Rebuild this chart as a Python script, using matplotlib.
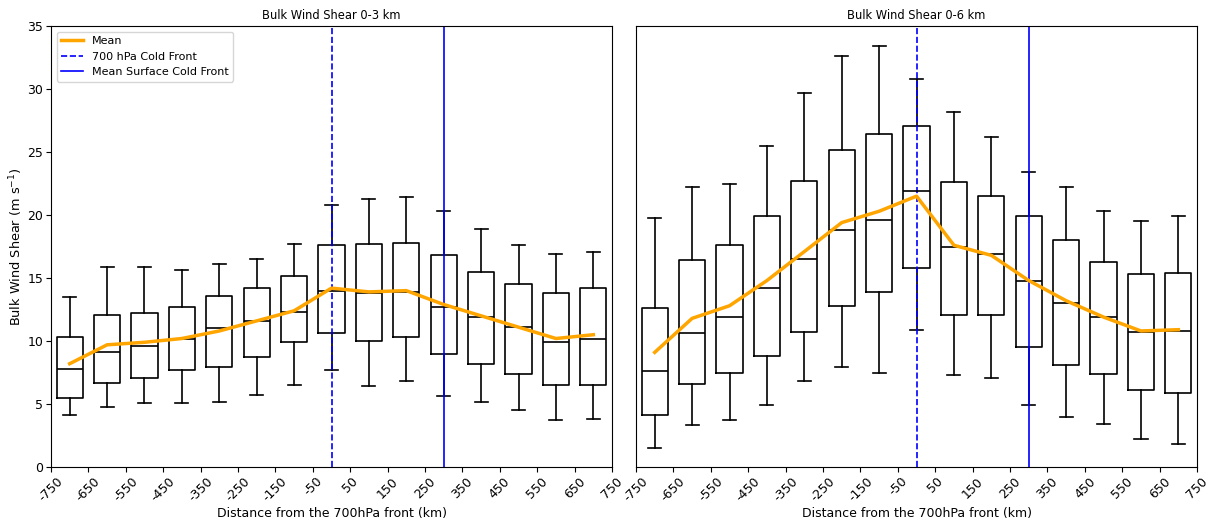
import numpy as np
import matplotlib
matplotlib.use("Agg")
import matplotlib.pyplot as plt

# bin centres (km from the 700 hPa front)
positions = [-700, -600, -500, -400, -300, -200, -100, 0, 100, 200, 300, 400, 500, 600, 700]

# 0-3 km shear: whisker low, q1, median, q3, whisker high, mean
shear03_whislo = [4.1, 4.8, 5.1, 5.1, 5.2, 5.7, 6.5, 7.7, 6.4, 6.8, 5.6, 5.2, 4.5, 3.7, 3.8]
shear03_q1 = [5.5, 6.7, 7.1, 7.7, 7.9, 8.7, 9.9, 10.6, 10.0, 10.3, 9.0, 8.2, 7.4, 6.5, 6.5]
shear03_med = [7.8, 9.1, 9.6, 10.2, 11.0, 11.6, 12.3, 14.0, 13.8, 13.9, 12.7, 11.9, 11.1, 9.9, 10.2]
shear03_q3 = [10.3, 12.1, 12.2, 12.7, 13.6, 14.2, 15.2, 17.6, 17.7, 17.8, 16.8, 15.5, 14.5, 13.8, 14.2]
shear03_whishi = [13.5, 15.9, 15.9, 15.6, 16.1, 16.5, 17.7, 20.8, 21.3, 21.4, 20.3, 18.9, 17.6, 16.9, 17.1]
shear03_mean = [8.2, 9.7, 9.9, 10.2, 10.8, 11.6, 12.4, 14.2, 13.9, 14.0, 12.9, 12.0, 11.1, 10.2, 10.5]

# 0-6 km shear
shear06_whislo = [1.5, 3.3, 3.7, 4.9, 6.8, 7.9, 7.5, 10.9, 7.3, 7.1, 4.9, 4.0, 3.4, 2.2, 1.8]
shear06_q1 = [4.1, 6.6, 7.5, 8.8, 10.7, 12.8, 13.9, 15.8, 12.1, 12.1, 9.5, 8.1, 7.4, 6.1, 5.9]
shear06_med = [7.6, 10.6, 11.9, 14.2, 16.5, 18.8, 19.6, 21.9, 17.5, 16.9, 14.8, 13.0, 11.9, 10.7, 10.8]
shear06_q3 = [12.6, 16.4, 17.6, 19.9, 22.7, 25.2, 26.4, 27.1, 22.6, 21.5, 19.9, 18.0, 16.3, 15.3, 15.4]
shear06_whishi = [19.8, 22.2, 22.5, 25.5, 29.7, 32.6, 33.4, 30.8, 28.2, 26.2, 23.4, 22.2, 20.3, 19.5, 19.9]
shear06_mean = [9.1, 11.8, 12.8, 14.8, 17.1, 19.4, 20.3, 21.5, 17.6, 16.8, 14.8, 13.2, 11.9, 10.8, 10.9]

front_700 = 0
front_sfc = 300
xticks = np.arange(-750, 751, 100)


def make_stats(lo, q1, med, q3, hi):
    return [dict(whislo=a, q1=b, med=c, q3=d, whishi=e, fliers=[])
            for a, b, c, d, e in zip(lo, q1, med, q3, hi)]


def draw_panel(ax, stats, mean, title):
    ax.bxp(stats, positions=positions, widths=70, showfliers=False,
           boxprops=dict(color="black", linewidth=1.2),
           whiskerprops=dict(color="black", linewidth=1.2),
           capprops=dict(color="black", linewidth=1.2),
           medianprops=dict(color="black", linewidth=1.2),
           manage_ticks=False)
    ax.plot(positions, mean, color="orange", linewidth=2.5, label="Mean", zorder=5)
    ax.axvline(front_700, color="blue", linestyle="--", linewidth=1.2, label="700 hPa Cold Front")
    ax.axvline(front_sfc, color="blue", linestyle="-", linewidth=1.2, label="Mean Surface Cold Front")
    ax.set_xlim(-750, 750)
    ax.set_ylim(0, 35)
    ax.set_xticks(xticks)
    ax.set_xticklabels([str(t) for t in xticks], rotation=45)
    ax.tick_params(labelsize=9, length=3.5, pad=2)
    ax.set_xlabel("Distance from the 700hPa front (km)", fontsize=9, labelpad=2)
    ax.set_title(title, fontsize=8.3, pad=5)


fig = plt.figure(figsize=(12.11, 5.21), dpi=100)
ax1 = fig.add_axes([0.0421, 0.1036, 0.4633, 0.8464])
ax2 = fig.add_axes([0.5252, 0.1036, 0.4633, 0.8464])

draw_panel(ax1, make_stats(shear03_whislo, shear03_q1, shear03_med, shear03_q3, shear03_whishi),
           shear03_mean, "Bulk Wind Shear 0-3 km")
ax1.set_ylabel("Bulk Wind Shear (m s$^{-1}$)", fontsize=9.3, labelpad=2)
ax1.legend(loc="upper left", fontsize=8)

draw_panel(ax2, make_stats(shear06_whislo, shear06_q1, shear06_med, shear06_q3, shear06_whishi),
           shear06_mean, "Bulk Wind Shear 0-6 km")
ax2.set_yticks([])

fig.savefig("out.png", dpi=100)
